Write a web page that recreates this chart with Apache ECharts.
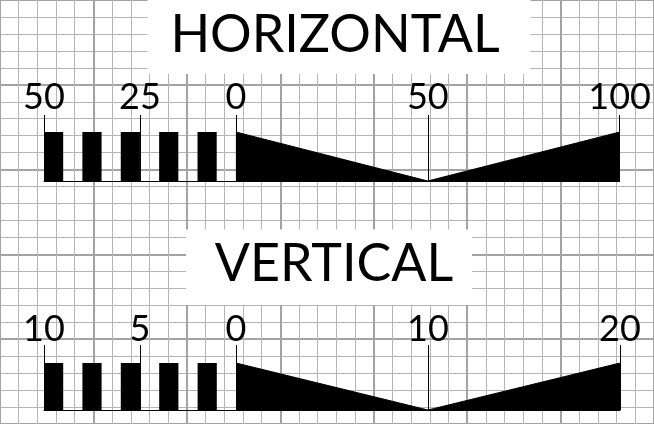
<!DOCTYPE html>
<html>
<head>
<meta charset="utf-8">
<script src="https://cdn.jsdelivr.net/npm/echarts@6/dist/echarts.min.js"></script>
<style>
  html, body { margin: 0; padding: 0; background: #fff; }
  #chart { width: 654px; height: 424px; }
</style>
</head>
<body>
<div id="chart"></div>
<script>
// scale bar data (distance units)
const hTicks = [-50, -25, 0, 50, 100]
const hBlocks = [[-50, -45], [-40, -35], [-30, -25], [-20, -15], [-10, -5]]
const hProfile = [[0, 1], [50, 0], [100, 1]]

const vTicks = [-10, -5, 0, 10, 20]
const vBlocks = [[-10, -9], [-8, -7], [-6, -5], [-4, -3], [-2, -1]]
const vProfile = [[0, 1], [10, 0], [20, 1]]

const titles = ['HORIZONTAL', 'VERTICAL']

const chart = echarts.init(document.getElementById('chart'))

// background paper grid (cells of 19.2px, heavier line every 5)
const paperAxis = (gridIndex, max) => ({
  gridIndex,
  type: 'value',
  min: 0,
  max,
  interval: 5,
  axisLine: { show: false },
  axisTick: { show: false },
  axisLabel: { show: false },
  minorTick: { show: false, splitNumber: 5 },
  splitLine: { show: true, lineStyle: { color: '#a3a3a3', width: 2 } },
  minorSplitLine: { show: true, lineStyle: { color: '#b5b5b5', width: 1 } }
})

const scaleXAxis = (gridIndex, min, max, ticks, tickLen, margin) => ({
  gridIndex,
  type: 'value',
  min,
  max,
  position: 'bottom',
  axisLine: { show: true, onZero: false, lineStyle: { color: '#000', width: 1 } },
  axisTick: { show: true, inside: true, length: tickLen, customValues: ticks, lineStyle: { color: '#000', width: 1 } },
  axisLabel: {
    inside: true,
    margin,
    customValues: ticks,
    formatter: v => String(Math.abs(v)),
    color: '#000',
    fontSize: 36,
    fontFamily: 'Lato'
  },
  splitLine: { show: false }
})

const scaleYAxis = gridIndex => ({
  gridIndex,
  type: 'value',
  min: 0,
  max: 1,
  show: false
})

const blockSeries = (idx, data) => ({
  type: 'custom',
  xAxisIndex: idx,
  yAxisIndex: idx,
  data,
  encode: { x: [0, 1] },
  renderItem: (params, api) => {
    const p0 = api.coord([api.value(0), 1])
    const p1 = api.coord([api.value(1), 0])
    return {
      type: 'rect',
      shape: { x: p0[0], y: p0[1], width: p1[0] - p0[0], height: p1[1] - p0[1] },
      style: { fill: '#000' }
    }
  }
})

const profileSeries = (idx, data) => ({
  type: 'line',
  xAxisIndex: idx,
  yAxisIndex: idx,
  data,
  symbol: 'none',
  lineStyle: { color: '#000', width: 1 },
  areaStyle: { color: '#000', opacity: 1, origin: 'start' }
})

// white label box knocked out of the paper grid
const titleRect = (x, y, w, h) => ({
  type: 'rect',
  z: 100,
  shape: { x, y, width: w, height: h },
  style: { fill: '#fff' }
})

const titleText = (text, cx, cy) => ({
  type: 'text',
  z: 101,
  x: cx,
  y: cy,
  style: { text, fill: '#000', font: '52px Lato', align: 'center', verticalAlign: 'middle' }
})

const option = {
  backgroundColor: '#fff',
  animation: false,
  grid: [
    { left: -6.9, top: -21, width: 672, height: 480 },
    { left: 44, top: 132, width: 576, height: 49 },
    { left: 44, top: 363, width: 576, height: 47 }
  ],
  xAxis: [
    paperAxis(0, 35),
    scaleXAxis(1, -50, 100, hTicks, 66, 66),
    scaleXAxis(2, -10, 20, vTicks, 65, 63)
  ],
  yAxis: [
    paperAxis(0, 25),
    scaleYAxis(1),
    scaleYAxis(2)
  ],
  series: [
    blockSeries(1, hBlocks),
    profileSeries(1, hProfile),
    blockSeries(2, vBlocks),
    profileSeries(2, vProfile)
  ],
  graphic: [
    titleRect(147.5, 0, 383, 74),
    titleText(titles[0], 335, 35.5),
    titleRect(186, 229.5, 286, 75.5),
    titleText(titles[1], 334, 264)
  ]
}

chart.setOption(option)
</script>
</body>
</html>
